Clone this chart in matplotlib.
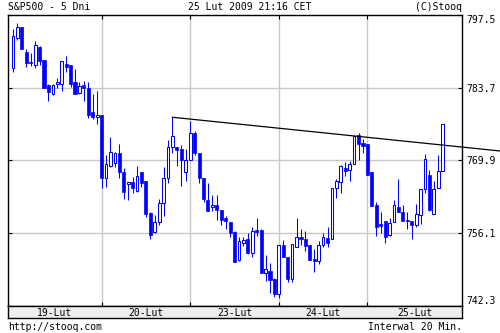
import numpy as np
import matplotlib
matplotlib.use("Agg")
import matplotlib.pyplot as plt

# S&P500, 20 minute candles over 5 days
opens = [787.4, 793.1, 795.2, 790.5, 788.6, 788.0, 791.4, 789.0, 784.2, 782.6,
         784.4, 784.5, 788.3, 788.0, 784.8, 782.7, 784.2, 783.7, 779.1, 778.1,
         778.5, 766.5, 768.9, 769.4, 771.3, 767.7, 765.4, 765.8, 764.2, 767.7,
         766.0, 759.9, 756.3, 758.2, 761.8, 766.5, 772.4, 772.5, 772.0, 767.8,
         769.9, 775.1, 771.4, 766.5, 762.5, 761.0, 761.4, 760.5, 758.9, 758.3,
         756.3, 751.0, 754.3, 755.0, 752.3, 756.7, 756.7, 748.5, 748.9, 747.4,
         744.6, 753.8, 751.6, 747.4, 753.4, 755.4, 755.0, 753.9, 751.2, 750.8,
         753.9, 755.2, 755.0, 764.6, 765.9, 768.4, 768.1, 769.2, 774.7, 773.2,
         773.0, 767.7, 761.5, 757.9, 758.4, 755.8, 758.2, 761.1, 760.1, 758.6,
         758.4, 757.7, 759.5, 764.4, 767.2, 759.7, 764.6, 768.0]
highs = [794.8, 796.0, 795.2, 791.1, 790.2, 792.6, 791.6, 789.0, 784.4, 784.4,
         785.5, 788.8, 789.7, 788.0, 787.3, 784.8, 785.0, 784.8, 782.5, 783.1,
         778.5, 770.9, 774.4, 771.6, 773.0, 768.4, 765.8, 766.8, 768.9, 767.7,
         766.0, 760.1, 759.6, 762.6, 768.7, 773.7, 778.1, 772.5, 772.8, 772.1,
         777.4, 775.5, 771.4, 766.5, 765.6, 763.4, 763.3, 760.6, 759.3, 758.3,
         756.5, 755.4, 755.4, 756.1, 757.3, 759.0, 756.9, 752.0, 750.4, 747.6,
         753.8, 754.8, 751.6, 754.0, 759.0, 756.9, 756.6, 753.9, 753.2, 754.7,
         756.2, 757.3, 764.6, 766.3, 769.0, 769.6, 769.8, 774.5, 775.1, 774.0,
         773.0, 767.7, 762.1, 760.2, 758.4, 758.9, 762.4, 766.4, 761.4, 760.2,
         758.4, 761.6, 764.4, 771.1, 768.1, 766.0, 770.9, 776.8]
lows = [786.7, 792.7, 791.1, 787.7, 787.8, 787.5, 788.1, 783.7, 781.2, 782.3,
        783.6, 783.1, 786.7, 783.9, 782.6, 782.5, 781.1, 778.0, 777.8, 776.9,
        764.7, 764.9, 768.7, 768.7, 766.6, 762.6, 762.5, 763.7, 763.9, 764.9,
        759.1, 755.1, 756.1, 757.7, 759.4, 765.7, 771.4, 768.9, 765.1, 766.0,
        769.9, 770.9, 765.7, 762.1, 760.4, 760.3, 758.7, 757.7, 757.0, 755.3,
        750.7, 750.8, 753.6, 752.2, 751.6, 755.6, 748.5, 747.1, 744.8, 744.0,
        743.8, 751.5, 746.9, 746.9, 753.4, 753.9, 752.8, 751.0, 748.8, 750.3,
        753.4, 753.4, 755.0, 762.8, 763.7, 767.0, 766.1, 769.2, 770.0, 771.4,
        767.1, 761.3, 755.6, 756.1, 754.2, 755.6, 758.2, 760.1, 758.4, 756.9,
        755.0, 757.3, 757.9, 763.8, 760.4, 759.7, 764.6, 768.0]
closes = [793.5, 795.2, 791.1, 788.3, 788.3, 791.8, 788.8, 783.7, 782.8, 784.2,
          784.8, 788.7, 787.7, 784.4, 782.6, 784.0, 783.7, 778.5, 778.1, 778.5,
          766.6, 769.2, 771.5, 771.4, 767.8, 764.0, 765.8, 764.6, 766.9, 765.6,
          759.8, 755.8, 758.2, 761.8, 766.5, 772.4, 774.5, 771.9, 769.9, 769.9,
          775.1, 771.4, 766.5, 762.6, 760.4, 761.4, 760.5, 758.7, 758.4, 756.2,
          750.7, 754.6, 754.8, 752.3, 756.5, 756.4, 748.5, 749.3, 747.3, 744.6,
          753.8, 751.5, 747.4, 754.0, 755.4, 755.1, 753.7, 751.0, 750.8, 753.9,
          755.3, 754.2, 764.6, 766.1, 768.8, 767.9, 769.2, 774.5, 773.1, 772.7,
          767.1, 761.3, 757.3, 757.5, 755.3, 758.1, 761.4, 760.1, 758.4, 758.4,
          757.7, 759.7, 764.4, 770.1, 760.6, 764.4, 768.0, 776.8]

# days on the x axis and how many candles each one has
day_labels = ["19-Lut", "20-Lut", "23-Lut", "24-Lut", "25-Lut"]
day_counts = [20, 20, 20, 20, 18]

# price ticks on the right side
price_ticks = [742.3, 756.1, 769.9, 783.7, 797.5]

# resistance line drawn by hand on the chart
trend_x = [36, 110]
trend_y = [778.1, 771.7]

blue = "#0000ff"
grid_gray = "#c8c8c8"
mono = "DejaVu Sans Mono"

x = np.arange(len(opens))
opens = np.array(opens)
closes = np.array(closes)
up = closes >= opens

fig = plt.figure(figsize=(5, 3.33), dpi=100)
ax = fig.add_axes([8 / 500, 1 - 306 / 333, 454 / 500, 291 / 333])
x_left, x_right = -1.13, 101.35
ax.set_xlim(x_left, x_right)
ax.set_ylim(price_ticks[0], price_ticks[-1])

# grid: day boundaries and price levels
day_starts = np.cumsum(day_counts)[:-1]
for d in day_starts:
    ax.axvline(d, color=grid_gray, lw=1, zorder=0)
for p in price_ticks[1:-1]:
    ax.axhline(p, color=grid_gray, lw=1, zorder=0)

# candles: wicks first, then bodies (hollow = up, filled = down)
ax.vlines(x, lows, highs, color=blue, lw=0.75, zorder=2)
body_h = np.abs(closes - opens)
body_h = np.maximum(body_h, 0.15)
body_bottom = np.minimum(opens, closes)
ax.bar(x[up], body_h[up], bottom=body_bottom[up], width=0.62,
       facecolor="white", edgecolor=blue, linewidth=0.75, zorder=3)
ax.bar(x[~up], body_h[~up], bottom=body_bottom[~up], width=0.7,
       facecolor=blue, edgecolor=blue, linewidth=0.5, zorder=3)

# trend line goes over the right edge
ax.plot(trend_x, trend_y, color="black", lw=0.9, clip_on=False, zorder=4)

# axes look
for s in ax.spines.values():
    s.set_color("black")
    s.set_linewidth(1)
ax.set_xticks(day_starts)
ax.set_yticks(price_ticks)
ax.set_yticklabels([f"{p:.1f}" for p in price_ticks], fontsize=7, family=mono)
ax.tick_params(direction="in", length=3, width=0.8, top=True, bottom=True,
               left=True, right=True, labelleft=False, labelright=True,
               labelbottom=False, pad=3)
ax.get_yticklabels()[0].set_verticalalignment("bottom")
ax.get_yticklabels()[-1].set_verticalalignment("top")

# gray band with the day names
band = fig.add_axes([8 / 500, 1 - 318 / 333, 454 / 500, 12 / 333])
band.set_facecolor("#eeeeee")
band.set_xlim(x_left, x_right)
band.set_ylim(0, 1)
band.set_xticks([])
band.set_yticks([])
for s in band.spines.values():
    s.set_linewidth(1)
edges = [x_left] + list(day_starts) + [x_right]
for i, lab in enumerate(day_labels):
    band.text((edges[i] + edges[i + 1]) / 2, 0.45, lab, ha="center",
              va="center", fontsize=7, family=mono)

# header and footer texts
fig.text(8 / 500, 1 - 7 / 333, "S&P500 - 5 Dni", fontsize=7, family=mono, va="center")
fig.text(250 / 500, 1 - 7 / 333, "25 Lut 2009 21:16 CET", fontsize=7, family=mono,
         va="center", ha="center")
fig.text(462 / 500, 1 - 7 / 333, "(C)Stooq", fontsize=7, family=mono,
         va="center", ha="right")
fig.text(8 / 500, 1 - 327 / 333, "http://stooq.com", fontsize=7, family=mono, va="center")
fig.text(462 / 500, 1 - 327 / 333, "Interwal 20 Min.", fontsize=7, family=mono,
         va="center", ha="right")

fig.savefig("out.png", dpi=100, facecolor="white")
